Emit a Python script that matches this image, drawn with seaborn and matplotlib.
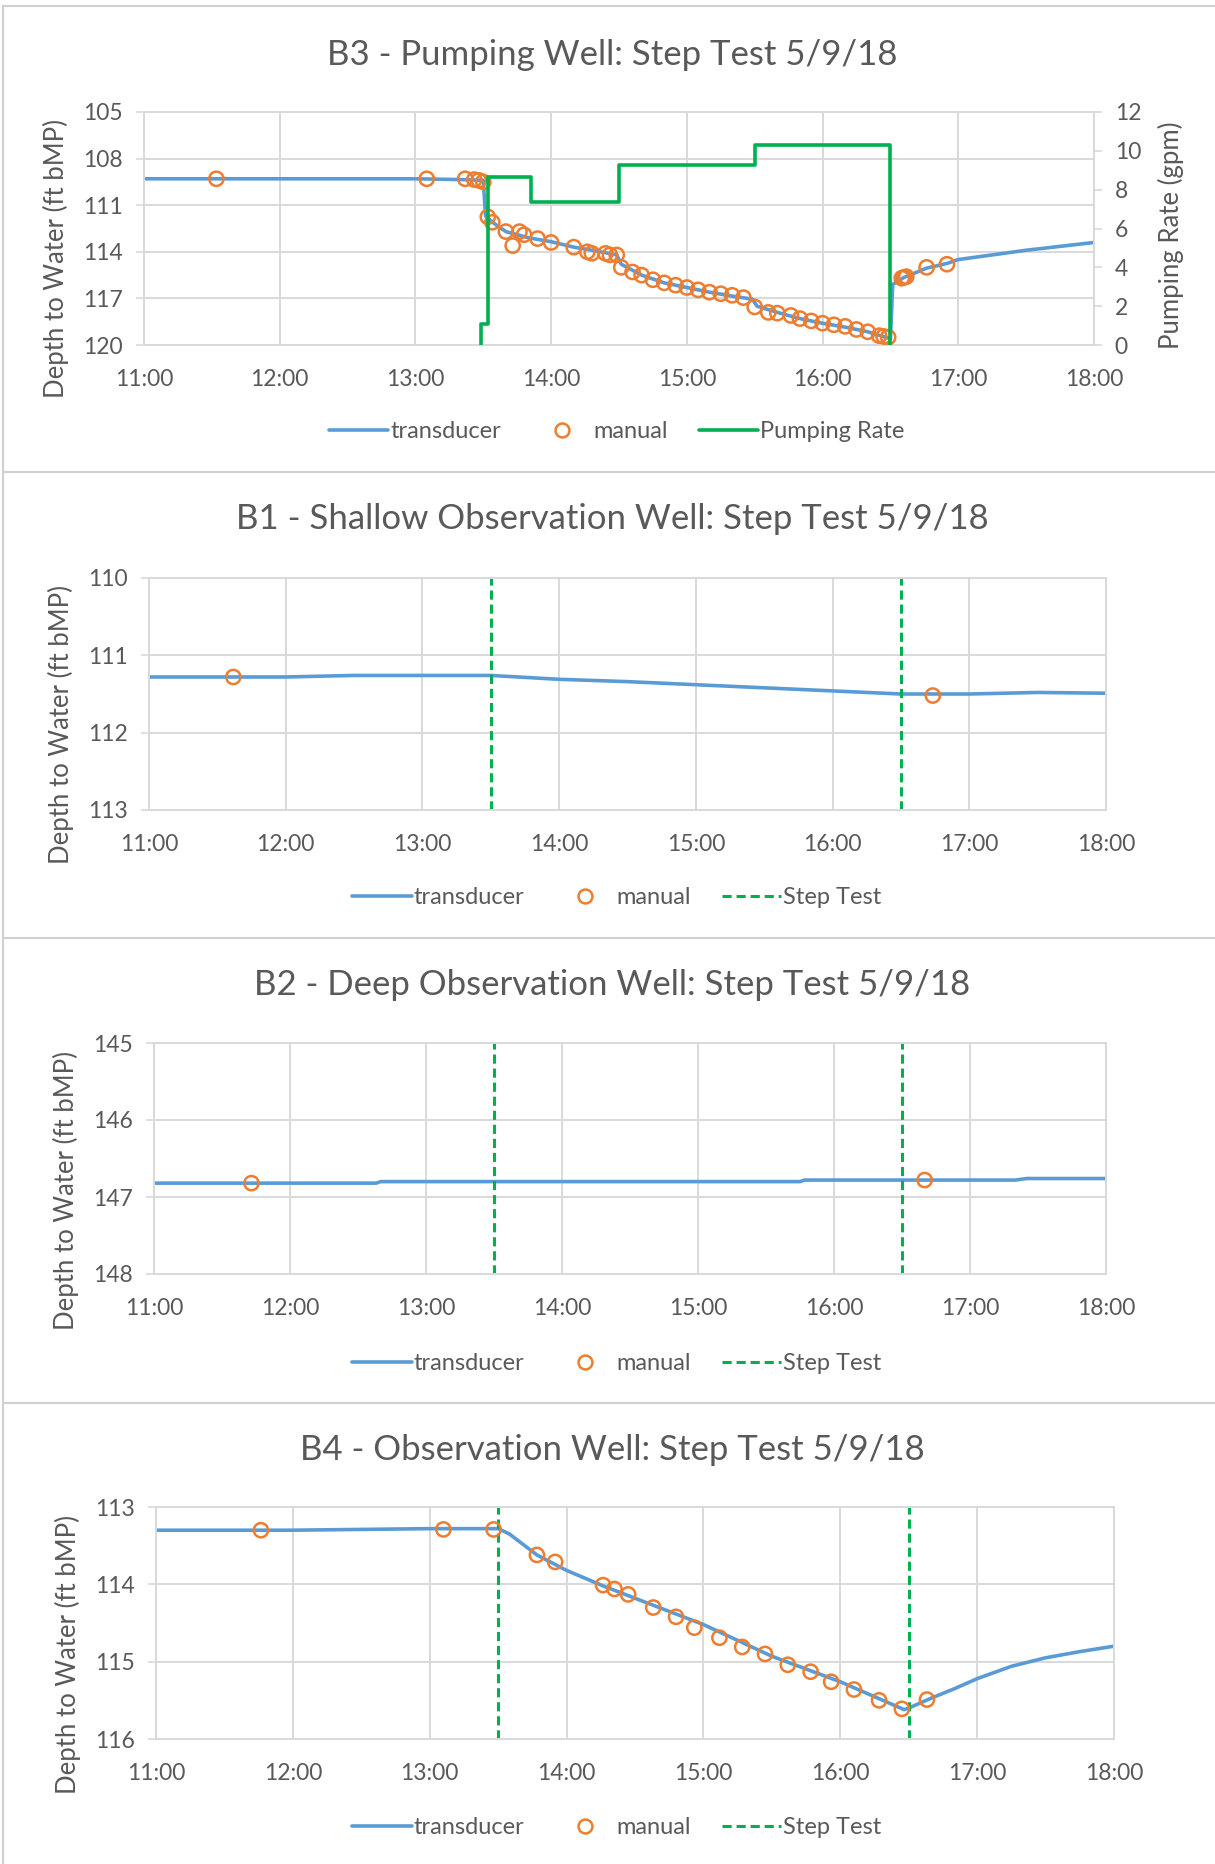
import matplotlib
matplotlib.use("Agg")
import matplotlib.pyplot as plt
import seaborn as sns
from matplotlib.lines import Line2D

sns.set_theme(style="white")
plt.rcParams['font.family'] = ['Lato', 'DejaVu Sans']

BLUE = '#5B9BD5'
ORANGE = '#ED7D31'
GREEN = '#00B050'
GRID = '#D9D9D9'
TXT = '#595959'

# ---- data, times as HH:MM ----
step_test = ['13:30', '16:30']

# B3 pumping well
b3_trans_time = ['11:00', '11:30', '12:00', '12:30', '13:00', '13:20', '13:30', '13:31', '13:35', '13:40',
                 '13:45', '13:50', '14:00', '14:10', '14:20', '14:29', '14:31', '14:40', '14:50', '15:00',
                 '15:10', '15:20', '15:29', '15:31', '15:40', '15:50', '16:00', '16:10', '16:20', '16:29',
                 '16:30', '16:31', '16:36', '16:46', '16:55', '17:00', '17:15', '17:30', '17:45', '18:00']
b3_trans_depth = [109.3, 109.3, 109.3, 109.3, 109.3, 109.35, 109.4, 111.7, 112.2, 112.7,
                  112.9, 113.1, 113.35, 113.7, 113.95, 114.2, 114.8, 115.5, 116.0, 116.3,
                  116.6, 116.85, 117.05, 117.5, 117.9, 118.3, 118.6, 118.85, 119.15, 119.55,
                  119.6, 116.1, 115.65, 115.05, 114.75, 114.5, 114.2, 113.9, 113.65, 113.4]
b3_man_time = ['11:32', '13:05', '13:22', '13:26', '13:28', '13:30', '13:32', '13:34', '13:40', '13:43',
               '13:46', '13:48', '13:54', '14:00', '14:10', '14:16', '14:18', '14:24', '14:26', '14:29',
               '14:31', '14:36', '14:40', '14:45', '14:50', '14:55', '15:00', '15:05', '15:10', '15:15',
               '15:20', '15:25', '15:30', '15:36', '15:40', '15:46', '15:50', '15:55', '16:00', '16:05',
               '16:10', '16:15', '16:20', '16:25', '16:27', '16:29', '16:35', '16:36', '16:37', '16:46',
               '16:55']
b3_man_depth = [109.3, 109.3, 109.3, 109.35, 109.4, 109.5, 111.75, 112.1, 112.7, 113.6,
                112.7, 112.9, 113.15, 113.4, 113.7, 114.0, 114.1, 114.1, 114.2, 114.2,
                115.0, 115.3, 115.5, 115.8, 116.0, 116.15, 116.3, 116.45, 116.6, 116.7,
                116.8, 116.95, 117.55, 117.9, 117.95, 118.1, 118.3, 118.45, 118.6, 118.7,
                118.8, 119.0, 119.15, 119.4, 119.45, 119.5, 115.7, 115.65, 115.6, 115.0,
                114.8]
b3_pump_time = ['13:29', '13:29', '13:32', '13:51', '14:30', '15:30', '16:30']
b3_pump_rate = [0.0, 1.1, 8.65, 7.37, 9.25, 10.3, 0.0]

# B1 shallow observation well
b1_trans_time = ['11:00', '11:30', '12:00', '12:30', '13:00', '13:30', '14:00', '14:30', '15:00', '15:30',
                 '16:00', '16:30', '17:00', '17:30', '18:00']
b1_trans_depth = [111.28, 111.28, 111.28, 111.26, 111.26, 111.26, 111.31, 111.34, 111.38, 111.42,
                  111.46, 111.5, 111.5, 111.48, 111.49]
b1_man_time = ['11:37', '16:44']
b1_man_depth = [111.28, 111.52]

# B2 deep observation well
b2_trans_time = ['11:00', '12:00', '12:38', '12:40', '13:00', '14:00', '15:00', '15:45', '15:47', '16:30',
                 '17:20', '17:25', '18:00']
b2_trans_depth = [146.82, 146.82, 146.82, 146.8, 146.8, 146.8, 146.8, 146.8, 146.78, 146.78,
                  146.78, 146.76, 146.76]
b2_man_time = ['11:43', '16:40']
b2_man_depth = [146.82, 146.78]

# B4 observation well
b4_trans_time = ['11:00', '12:00', '13:00', '13:30', '13:35', '13:47', '14:00', '14:16', '14:30', '15:00',
                 '15:30', '16:00', '16:28', '16:30', '16:40', '16:50', '17:00', '17:15', '17:30', '17:45',
                 '18:00']
b4_trans_depth = [113.3, 113.3, 113.28, 113.28, 113.35, 113.62, 113.82, 114.02, 114.18, 114.52,
                  114.93, 115.26, 115.62, 115.6, 115.47, 115.35, 115.22, 115.06, 114.95, 114.87,
                  114.8]
b4_man_time = ['11:46', '13:06', '13:28', '13:47', '13:55', '14:16', '14:21', '14:27', '14:38', '14:48',
               '14:56', '15:07', '15:17', '15:27', '15:37', '15:47', '15:56', '16:06', '16:17', '16:27',
               '16:38']
b4_man_depth = [113.3, 113.29, 113.29, 113.62, 113.71, 114.01, 114.06, 114.13, 114.3, 114.42,
                114.56, 114.69, 114.81, 114.9, 115.04, 115.13, 115.26, 115.36, 115.5, 115.61,
                115.49]

x_ticks = ['11:00', '12:00', '13:00', '14:00', '15:00', '16:00', '17:00', '18:00']


def hrs(times):
    return [int(t[:2]) + int(t[3:]) / 60 for t in times]


W, H = 1215, 1864
fig = plt.figure(figsize=(W / 100, H / 100), dpi=100)
TICK_FS = 16.5


def px_axes(x0, x1, y0, y1):
    return fig.add_axes([x0 / W, 1 - y1 / H, (x1 - x0) / W, (y1 - y0) / H])


def style(ax, top, bottom, step):
    ax.set_xlim(11, 18)
    ax.set_ylim(bottom, top)
    ax.set_xticks(hrs(x_ticks))
    ax.set_xticklabels(x_ticks)
    n = int(round((bottom - top) / step))
    ax.set_yticks([top + i * step for i in range(n + 1)])
    ax.grid(True, color=GRID, lw=1.4)
    ax.set_axisbelow(True)
    for s in ax.spines.values():
        s.set_color(GRID)
        s.set_linewidth(1.4)
    ax.tick_params(axis='x', length=0, pad=17, labelsize=TICK_FS, labelcolor=TXT)
    ax.tick_params(axis='y', left=True, length=6, width=1.2, color=GRID, pad=9,
                   labelsize=TICK_FS, labelcolor=TXT)
    ax.set_xlabel('')
    ax.set_ylabel('')


def draw_well(ax, tt, td, mt, md):
    sns.lineplot(x=hrs(tt), y=td, ax=ax, color=BLUE, lw=2.6, estimator=None, sort=False)
    sns.scatterplot(x=hrs(mt), y=md, ax=ax, marker='o', s=105, facecolor='none',
                    edgecolor=ORANGE, linewidth=1.8, zorder=3)


def ylabel(x, y, text='Depth to Water (ft bMP)'):
    fig.text(x / W, 1 - y / H, text, rotation=90, ha='center', va='center',
             fontsize=18.5, color=TXT)


def title(y, text):
    fig.text(612 / W, 1 - y / H, text, ha='center', va='center', fontsize=25, color=TXT)


def legend(ax, y, handles, labels):
    ax.legend(handles, labels, loc='center', bbox_to_anchor=(617 / W, 1 - y / H),
              bbox_transform=fig.transFigure, ncol=len(handles), frameon=False,
              fontsize=17, labelcolor=TXT, handlelength=2.5, handletextpad=0.1,
              columnspacing=1.3)


h_trans = Line2D([], [], color=BLUE, lw=2.6)
h_man = Line2D([], [], color=ORANGE, marker='o', ls='none', markersize=10,
               markerfacecolor='none', markeredgewidth=1.8)
h_pump = Line2D([], [], color=GREEN, lw=2.6)
h_step = Line2D([], [], color=GREEN, lw=2.2, ls=(0, (3, 1.6)))

# panel borders
for yy in [6, 472, 938, 1403]:
    fig.add_artist(Line2D([3 / W, 1], [1 - yy / H] * 2, color='#D0D0D0', lw=1.5))
fig.add_artist(Line2D([3 / W] * 2, [0, 1 - 6 / H], color='#D0D0D0', lw=1.5))

# ---- B3 ----
ax1 = px_axes(144, 1094, 112, 345)
draw_well(ax1, b3_trans_time, b3_trans_depth, b3_man_time, b3_man_depth)
style(ax1, 105, 120, 3)
ax1b = ax1.twinx()
sns.lineplot(x=hrs(b3_pump_time), y=b3_pump_rate, ax=ax1b, color=GREEN, lw=2.6,
             estimator=None, sort=False, drawstyle='steps-post')
ax1b.set_ylim(0, 12)
ax1b.set_yticks(range(0, 13, 2))
ax1b.grid(False)
for s in ax1b.spines.values():
    s.set_visible(False)
ax1b.tick_params(axis='y', right=True, length=6, width=1.2, color=GRID, pad=9,
                 labelsize=TICK_FS, labelcolor=TXT)
ax1b.set_ylabel('')
title(55, 'B3 - Pumping Well: Step Test 5/9/18')
ylabel(56, 259)
ylabel(1171, 235, 'Pumping Rate (gpm)')
legend(ax1, 432, [h_trans, h_man, h_pump], ['transducer', 'manual', 'Pumping Rate'])

# ---- observation wells ----
obs = [
    ((149, 1106, 578, 810), 110, 113, b1_trans_time, b1_trans_depth, b1_man_time, b1_man_depth,
     519, 'B1 - Shallow Observation Well: Step Test 5/9/18', 725, 898),
    ((154, 1106, 1043, 1274), 145, 148, b2_trans_time, b2_trans_depth, b2_man_time, b2_man_depth,
     985, 'B2 - Deep Observation Well: Step Test 5/9/18', 1190, 1364),
    ((156, 1114, 1507, 1739), 113, 116, b4_trans_time, b4_trans_depth, b4_man_time, b4_man_depth,
     1450, 'B4 - Observation Well: Step Test 5/9/18', 1655, 1828),
]
for box, top, bottom, tt, td, mt, md, ty, ttl, ly, legy in obs:
    ax = px_axes(*box)
    draw_well(ax, tt, td, mt, md)
    for t in hrs(step_test):
        ax.axvline(t, color=GREEN, lw=2.2, ls=(0, (3, 1.6)), zorder=2.5)
    style(ax, top, bottom, 1)
    title(ty, ttl)
    ylabel(box[0] - 88, ly)
    legend(ax, legy, [h_trans, h_man, h_step], ['transducer', 'manual', 'Step Test'])

fig.savefig('out.png', dpi=100)
